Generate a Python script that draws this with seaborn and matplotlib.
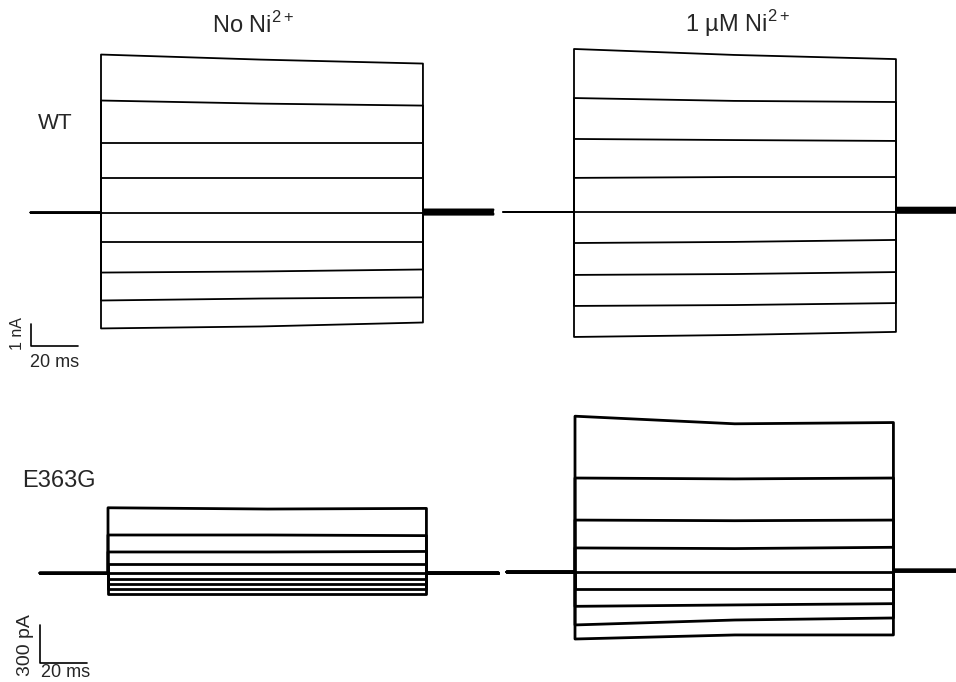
import pandas as pd
import seaborn as sns
import matplotlib.pyplot as plt

# time points of one sweep (ms): baseline, step on, mid pulse, step off, tail
wt_time = [-30, 0, 0, 68, 137, 137, 167]
e363g_time = [-29, 0, 0, 68, 135.5, 135.5, 166]

# WT, no Ni2+ (nA)
wt_no_start = [7.18, 5.09, 3.18, 1.55, 0.0, -1.32, -2.73, -4.00, -5.27]
wt_no_mid = [6.95, 4.95, 3.18, 1.55, 0.0, -1.32, -2.68, -3.91, -5.18]
wt_no_end = [6.77, 4.86, 3.18, 1.55, 0.0, -1.32, -2.59, -3.86, -5.00]
wt_no_tail = [0.14, 0.11, 0.08, 0.05, 0.02, -0.01, -0.04, -0.07, -0.10]

# WT, 1 uM Ni2+ (nA)
wt_ni_start = [7.41, 5.18, 3.32, 1.55, 0.0, -1.41, -2.86, -4.27, -5.68]
wt_ni_mid = [7.14, 5.05, 3.27, 1.59, 0.0, -1.36, -2.82, -4.23, -5.59]
wt_ni_end = [6.95, 5.00, 3.23, 1.59, 0.0, -1.27, -2.73, -4.14, -5.45]
wt_ni_tail = [0.20, 0.17, 0.14, 0.11, 0.08, 0.05, 0.02, -0.01, -0.04]

# E363G, no Ni2+ (pA)
mut_no_start = [515, 300, 166, 71, 0, -47, -87, -126, -166]
mut_no_mid = [505, 300, 166, 71, 0, -47, -87, -126, -166]
mut_no_end = [510, 295, 170, 71, 0, -47, -87, -126, -166]
mut_no_tail = [3, 2, 2, 1, 1, 0, 0, -1, -1]

# E363G, 1 uM Ni2+ (pA)
mut_ni_start = [1230, 742, 410, 190, 0, -134, -271, -418, -529]
mut_ni_mid = [1170, 735, 405, 185, 0, -134, -260, -379, -497]
mut_ni_end = [1180, 742, 410, 195, 0, -134, -250, -363, -497]
mut_ni_tail = [16, 15, 14, 13, 12, 11, 10, 9, 8]


def sweeps(times, start, mid, end, tail):
    rows = []
    for k in range(len(start)):
        vals = [0, 0, start[k], mid[k], end[k], tail[k], tail[k]]
        for t, v in zip(times, vals):
            rows.append({"trace": k, "t": t, "i": v})
    return pd.DataFrame(rows)


sns.set_theme(style="white")
plt.rcParams["font.family"] = ["Liberation Sans", "DejaVu Sans"]
plt.rcParams["mathtext.fontset"] = "custom"
plt.rcParams["mathtext.rm"] = "Liberation Sans"

W, H = 956, 682
fig = plt.figure(figsize=(W / 100, H / 100), dpi=100)

MS_PX = 2.35  # pixels per ms


def panel(left, top, right, bottom, x0, base, unit_px):
    ax = fig.add_axes([left / W, 1 - bottom / H, (right - left) / W, (bottom - top) / H])
    ax.set_xlim((left - x0) / MS_PX, (right - x0) / MS_PX)
    ax.set_ylim((base - bottom) / unit_px, (base - top) / unit_px)
    ax.set_axis_off()
    ax.patch.set_visible(False)
    return ax


def draw(ax, df, lw):
    for k, d in df.groupby("trace"):
        sns.lineplot(data=d, x="t", y="i", sort=False, estimator=None,
                     color="black", lw=lw, ax=ax)


ax1 = panel(0, 30, 500, 370, 101, 212.5, 22)
ax2 = panel(478, 30, 956, 370, 574, 212, 22)
ax3 = panel(0, 380, 500, 682, 108, 573, 38 / 300)
ax4 = panel(478, 380, 956, 682, 575, 572, 38 / 300)

draw(ax1, sweeps(wt_time, wt_no_start, wt_no_mid, wt_no_end, wt_no_tail), 1.3)
draw(ax2, sweeps(wt_time, wt_ni_start, wt_ni_mid, wt_ni_end, wt_ni_tail), 1.3)
draw(ax3, sweeps(e363g_time, mut_no_start, mut_no_mid, mut_no_end, mut_no_tail), 2.0)
draw(ax4, sweeps(e363g_time, mut_ni_start, mut_ni_mid, mut_ni_end, mut_ni_tail), 2.0)

# scale bars
ax1.plot([-29.8, -29.8, -9.8], [-5.09, -6.09, -6.09], color="black", lw=1.2)
ax3.plot([-28.9, -28.9, -8.9], [-410, -710, -710], color="black", lw=1.2)


def px(x, y):
    return x / W, 1 - y / H


fig.text(*px(253, 33), r"No Ni$^{\mathrm{2+}}$", fontsize=17, ha="center", va="baseline")
fig.text(*px(738, 32), r"1 µM Ni$^{\mathrm{2+}}$", fontsize=17, ha="center", va="baseline")
fig.text(*px(38, 129), "WT", fontsize=16, ha="left", va="baseline")
fig.text(*px(22, 487), "E363G", fontsize=17, ha="left", va="baseline")

fig.text(*px(17, 334), "1 nA", fontsize=11.5, rotation=90, ha="center", va="center")
fig.text(*px(30, 367), "20 ms", fontsize=13, ha="left", va="baseline")
fig.text(*px(25, 645), "300 pA", fontsize=14, rotation=90, ha="center", va="center")
fig.text(*px(41, 677), "20 ms", fontsize=13, ha="left", va="baseline")

fig.savefig("out.png", dpi=100, facecolor="white")
